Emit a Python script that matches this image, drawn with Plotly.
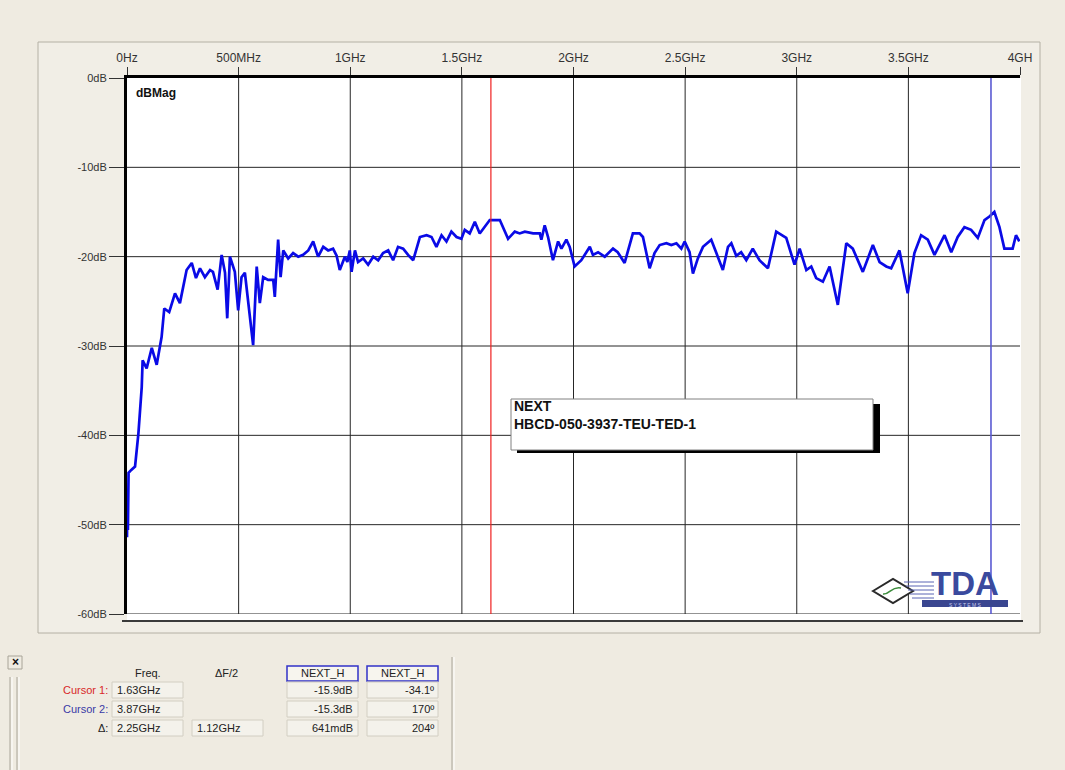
import plotly.graph_objects as go

# ---- data -------------------------------------------------------------
freq_ghz = [0.000, 0.002, 0.004, 0.007, 0.018, 0.036, 0.051, 0.058, 0.066, 0.070,
            0.088, 0.111, 0.133, 0.155, 0.167, 0.189, 0.215, 0.237, 0.267, 0.290,
            0.309, 0.327, 0.349, 0.372, 0.385, 0.406, 0.424, 0.439, 0.449, 0.461,
            0.483, 0.498, 0.513, 0.528, 0.543, 0.565, 0.581, 0.595, 0.610, 0.632,
            0.655, 0.662, 0.677, 0.688, 0.700, 0.722, 0.744, 0.767, 0.789, 0.812,
            0.834, 0.856, 0.879, 0.901, 0.923, 0.939, 0.953, 0.976, 0.987, 0.998,
            1.006, 1.021, 1.035, 1.058, 1.080, 1.103, 1.125, 1.147, 1.170, 1.192,
            1.214, 1.237, 1.259, 1.282, 1.312, 1.342, 1.364, 1.386, 1.409, 1.431,
            1.453, 1.476, 1.498, 1.513, 1.535, 1.558, 1.580, 1.603, 1.625, 1.670,
            1.707, 1.737, 1.759, 1.782, 1.819, 1.849, 1.856, 1.871, 1.886, 1.908,
            1.931, 1.946, 1.968, 1.983, 2.005, 2.035, 2.073, 2.087, 2.110, 2.140,
            2.177, 2.198, 2.229, 2.266, 2.296, 2.311, 2.341, 2.363, 2.386, 2.416,
            2.438, 2.461, 2.483, 2.498, 2.520, 2.535, 2.557, 2.580, 2.617, 2.640,
            2.669, 2.692, 2.707, 2.729, 2.751, 2.774, 2.803, 2.833, 2.871, 2.908,
            2.931, 2.953, 2.990, 3.013, 3.043, 3.065, 3.087, 3.117, 3.147, 3.184,
            3.222, 3.251, 3.296, 3.341, 3.371, 3.401, 3.423, 3.460, 3.497, 3.527,
            3.557, 3.587, 3.617, 3.662, 3.692, 3.721, 3.751, 3.781, 3.811, 3.841,
            3.863, 3.885, 3.908, 3.930, 3.967, 3.982, 3.997]

mag_db = [-51.4, -46.1, -50.6, -44.2, -43.9, -43.5, -39.8, -37.5, -34.6, -31.6,
          -32.5, -30.2, -32.1, -29.0, -25.8, -26.2, -24.1, -25.2, -21.5, -20.7,
          -22.4, -21.3, -22.3, -21.5, -21.7, -23.7, -19.8, -21.8, -26.9, -20.0,
          -21.7, -26.0, -22.3, -21.8, -24.9, -29.9, -21.1, -25.2, -22.3, -22.6,
          -22.6, -24.5, -18.1, -22.3, -19.3, -20.2, -19.6, -20.0, -19.8, -19.3,
          -18.3, -20.0, -18.9, -19.3, -19.1, -19.9, -21.5, -20.0, -20.6, -19.3,
          -21.7, -19.3, -20.6, -20.2, -20.9, -20.0, -20.4, -19.6, -19.3, -20.4,
          -18.9, -19.1, -19.8, -20.4, -17.8, -17.6, -17.8, -18.9, -17.6, -18.3,
          -17.2, -17.8, -18.0, -17.0, -17.4, -16.1, -17.4, -16.7, -15.9, -15.9,
          -18.0, -17.2, -17.4, -17.2, -17.4, -17.4, -18.1, -16.5, -17.8, -20.4,
          -18.3, -19.1, -18.1, -18.9, -21.1, -20.4, -18.9, -19.8, -19.5, -20.0,
          -19.1, -19.5, -20.7, -17.4, -17.4, -17.8, -21.3, -19.6, -18.7, -18.5,
          -18.7, -18.5, -19.1, -18.3, -19.5, -21.9, -20.2, -18.9, -18.1, -19.6,
          -21.5, -18.9, -18.5, -19.9, -19.5, -20.4, -19.1, -20.4, -21.3, -17.2,
          -17.6, -17.9, -20.9, -19.1, -21.5, -21.1, -22.4, -22.8, -21.1, -25.4,
          -18.5, -19.1, -21.7, -18.7, -20.6, -21.1, -21.3, -19.3, -24.1, -19.6,
          -17.6, -18.1, -19.8, -17.6, -19.5, -17.8, -16.7, -17.0, -17.9, -15.9,
          -15.5, -15.0, -16.7, -19.1, -19.1, -17.6, -18.3]

x_tick_vals = [0, 0.5, 1, 1.5, 2, 2.5, 3, 3.5, 4]
x_tick_text = ["0Hz", "500MHz", "1GHz", "1.5GHz", "2GHz", "2.5GHz", "3GHz", "3.5GHz", "4GH"]
y_tick_vals = [0, -10, -20, -30, -40, -50, -60]
y_tick_text = ["0dB", "-10dB", "-20dB", "-30dB", "-40dB", "-50dB", "-60dB"]

cursor1_ghz = 1.63
cursor2_ghz = 3.87

table_header = ["Freq.", "\u0394F/2", "NEXT_H", "NEXT_H"]
row_labels = ["Cursor 1:", "Cursor 2:", "\u0394:"]
row_freq = ["1.63GHz", "3.87GHz", "2.25GHz"]
row_half = ["", "", "1.12GHz"]
row_mag = ["-15.9dB", "-15.3dB", "641mdB"]
row_phase = ["-34.1\u00ba", "170\u00ba", "204\u00ba"]

# ---- page geometry ------------------------------------------------------
W, H = 1065, 770
L, R, T, B = 127, 1020, 78, 614          # plot area in page pixels
PW, PH = R - L, B - T


def px(x):
    return (x - L) / PW


def py(y):
    return (B - y) / PH


BG = "#EFEBE1"
UI_FONT = "Liberation Sans, Arial, sans-serif"
NARROW = "Liberation Sans Narrow, Arial Narrow, Liberation Sans, sans-serif"

fig = go.Figure()
fig.add_trace(go.Scatter(
    x=freq_ghz, y=mag_db, mode="lines",
    line=dict(color="#0A0AE6", width=2.7),
    hoverinfo="skip", showlegend=False,
))

shapes = []
# outer chart panel
shapes.append(dict(type="rect", xref="paper", yref="paper",
                   x0=px(38), x1=px(1040), y0=py(42), y1=py(633),
                   line=dict(color="#B4B0A4", width=1), fillcolor="#F1EEE6", layer="below"))
shapes.append(dict(type="rect", xref="paper", yref="paper",
                   x0=px(127), x1=px(1021), y0=py(78), y1=py(621),
                   line=dict(width=0), fillcolor="white", layer="below"))
# grid
for v in x_tick_vals[1:-1]:
    shapes.append(dict(type="line", xref="x", yref="y", x0=v, x1=v, y0=-60, y1=0,
                       line=dict(color="#262626", width=1), layer="below"))
for v in y_tick_vals[1:]:
    shapes.append(dict(type="line", xref="x", yref="y", x0=0, x1=4, y0=v, y1=v,
                       line=dict(color="#262626", width=1), layer="below"))
# bottom frame line
shapes.append(dict(type="line", xref="paper", yref="paper",
                   x0=px(122), x1=px(1023), y0=py(621), y1=py(621),
                   line=dict(color="#3A3A3A", width=2)))
# cursors
shapes.append(dict(type="line", xref="x", yref="y", x0=cursor1_ghz, x1=cursor1_ghz,
                   y0=-60, y1=0, line=dict(color="#F02020", width=1.2)))
shapes.append(dict(type="line", xref="x", yref="y", x0=cursor2_ghz, x1=cursor2_ghz,
                   y0=-60, y1=0, line=dict(color="#5A5AD2", width=1.6)))

# legend box with drop shadow
shapes.append(dict(type="rect", xref="paper", yref="paper",
                   x0=px(517), x1=px(880), y0=py(453), y1=py(404),
                   line=dict(width=0), fillcolor="#000000"))
shapes.append(dict(type="rect", xref="paper", yref="paper",
                   x0=px(511), x1=px(873), y0=py(450), y1=py(399),
                   line=dict(color="#808080", width=1), fillcolor="white"))

# TDA logo: diamond with a wave and speed lines
dx, dy = 893, 591
shapes.append(dict(type="path", xref="paper", yref="paper",
                   path=f"M {px(dx-20)},{py(dy)} L {px(dx)},{py(dy-12)} L {px(dx+20)},{py(dy)} L {px(dx)},{py(dy+12)} Z",
                   line=dict(color="#2A2A2A", width=2), fillcolor="white"))
shapes.append(dict(type="path", xref="paper", yref="paper",
                   path=f"M {px(dx-10)},{py(dy+3)} C {px(dx-3)},{py(dy+4)} {px(dx-2)},{py(dy-5)} {px(dx+8)},{py(dy-3)}",
                   line=dict(color="#3C8C3C", width=1.5)))
for i, yy in enumerate([582, 586, 590, 594, 598]):
    shapes.append(dict(type="line", xref="paper", yref="paper",
                       x0=px(904 + 2 * i), x1=px(934), y0=py(yy), y1=py(yy),
                       line=dict(color="#5A64B4", width=1)))
shapes.append(dict(type="rect", xref="paper", yref="paper",
                   x0=px(922), x1=px(1008), y0=py(607), y1=py(600),
                   line=dict(width=0), fillcolor="#3A4690"))

# cursor readout panel
shapes.append(dict(type="line", xref="paper", yref="paper",
                   x0=px(452), x1=px(452), y0=py(657), y1=py(770),
                   line=dict(color="#A8A498", width=1)))
shapes.append(dict(type="line", xref="paper", yref="paper",
                   x0=px(454), x1=px(454), y0=py(657), y1=py(770),
                   line=dict(color="#FFFFFF", width=1)))
for xx, cc in [(10, "#A8A498"), (12, "#FFFFFF"), (17, "#A8A498"), (19, "#FFFFFF")]:
    shapes.append(dict(type="line", xref="paper", yref="paper",
                       x0=px(xx), x1=px(xx), y0=py(677), y1=py(770),
                       line=dict(color=cc, width=1)))
# close button frame
shapes.append(dict(type="rect", xref="paper", yref="paper",
                   x0=px(8), x1=px(22), y0=py(669), y1=py(656),
                   line=dict(color="#A8A498", width=1), fillcolor=BG))

col_boxes = [(112, 183), (192, 263), (287, 358), (367, 438)]
row_y = [690, 709, 728]
# header boxes (blue outline)
for (x0, x1) in col_boxes[2:]:
    shapes.append(dict(type="rect", xref="paper", yref="paper",
                       x0=px(x0), x1=px(x1), y0=py(681), y1=py(666),
                       line=dict(color="#3232C8", width=1.5), fillcolor="#F7F5EE"))
# value fields
for r, yc in enumerate(row_y):
    for c, (x0, x1) in enumerate(col_boxes):
        if c == 1 and not row_half[r]:
            continue
        shapes.append(dict(type="rect", xref="paper", yref="paper",
                           x0=px(x0), x1=px(x1), y0=py(yc + 8), y1=py(yc - 8),
                           line=dict(color="#D2CEC2", width=1), fillcolor="#F4F2EB"))

annotations = []
annotations.append(dict(xref="paper", yref="paper", x=px(134), y=py(93), text="<b>dBMag</b>",
                        showarrow=False, xanchor="left", yanchor="middle",
                        font=dict(family=UI_FONT, size=12, color="#111")))
annotations.append(dict(xref="paper", yref="paper", x=px(512), y=py(415),
                        text="<b>NEXT<br>HBCD-050-3937-TEU-TED-1</b>", align="left",
                        showarrow=False, xanchor="left", yanchor="middle",
                        font=dict(family=UI_FONT, size=14, color="#111")))
annotations.append(dict(xref="paper", yref="paper", x=px(965), y=py(604), text="<b>TDA</b>",
                        showarrow=False, xanchor="center", yanchor="bottom",
                        font=dict(family=UI_FONT, size=33, color="#3A4A9E")))
annotations.append(dict(xref="paper", yref="paper", x=px(965), y=py(600), text="S Y S T E M S",
                        showarrow=False, xanchor="center", yanchor="top",
                        font=dict(family=UI_FONT, size=5, color="#C8CCEE")))

# readout text
annotations.append(dict(xref="paper", yref="paper", x=px(15), y=py(662), text="<b>\u00d7</b>",
                        showarrow=False, xanchor="center", yanchor="middle",
                        font=dict(family=UI_FONT, size=12, color="#111")))
header_x = [148, 226, 322, 402]
for hx, txt in zip(header_x, table_header):
    annotations.append(dict(xref="paper", yref="paper", x=px(hx), y=py(673), text=txt,
                            showarrow=False, xanchor="center", yanchor="middle",
                            font=dict(family=UI_FONT, size=11, color="#222")))
label_colors = ["#D82828", "#3A3AA6", "#222222"]
for r, yc in enumerate(row_y):
    annotations.append(dict(xref="paper", yref="paper", x=px(110), y=py(yc), text=row_labels[r],
                            showarrow=False, xanchor="right", yanchor="middle",
                            font=dict(family=UI_FONT, size=11, color=label_colors[r])))
    annotations.append(dict(xref="paper", yref="paper", x=px(115), y=py(yc), text=row_freq[r],
                            showarrow=False, xanchor="left", yanchor="middle",
                            font=dict(family=UI_FONT, size=11, color="#222")))
    if row_half[r]:
        annotations.append(dict(xref="paper", yref="paper", x=px(195), y=py(yc), text=row_half[r],
                                showarrow=False, xanchor="left", yanchor="middle",
                                font=dict(family=UI_FONT, size=11, color="#222")))
    annotations.append(dict(xref="paper", yref="paper", x=px(355), y=py(yc), text=row_mag[r],
                            showarrow=False, xanchor="right", yanchor="middle",
                            font=dict(family=UI_FONT, size=11, color="#222")))
    annotations.append(dict(xref="paper", yref="paper", x=px(436), y=py(yc), text=row_phase[r],
                            showarrow=False, xanchor="right", yanchor="middle",
                            font=dict(family=UI_FONT, size=11, color="#222")))

fig.update_layout(
    width=W, height=H, autosize=False,
    margin=dict(l=L, r=W - R, t=T, b=H - B, pad=0),
    paper_bgcolor=BG, plot_bgcolor="white",
    shapes=shapes, annotations=annotations,
    showlegend=False,
    xaxis=dict(range=[0, 4], side="top", tickmode="array",
               tickvals=x_tick_vals, ticktext=x_tick_text,
               ticks="outside", ticklen=8, tickwidth=1, tickcolor="#333",
               showline=True, linecolor="#000", linewidth=3,
               showgrid=False, zeroline=False, fixedrange=True,
               tickfont=dict(family=NARROW, size=12, color="#333")),
    yaxis=dict(range=[-60, 0], tickmode="array",
               tickvals=y_tick_vals, ticktext=y_tick_text,
               ticks="outside", ticklen=15, tickwidth=1, tickcolor="#333",
               showline=True, linecolor="#000", linewidth=3,
               showgrid=False, zeroline=False, fixedrange=True,
               tickfont=dict(family=UI_FONT, size=11, color="#333")),
)

fig.write_html("out.html", config={"displayModeBar": False})
